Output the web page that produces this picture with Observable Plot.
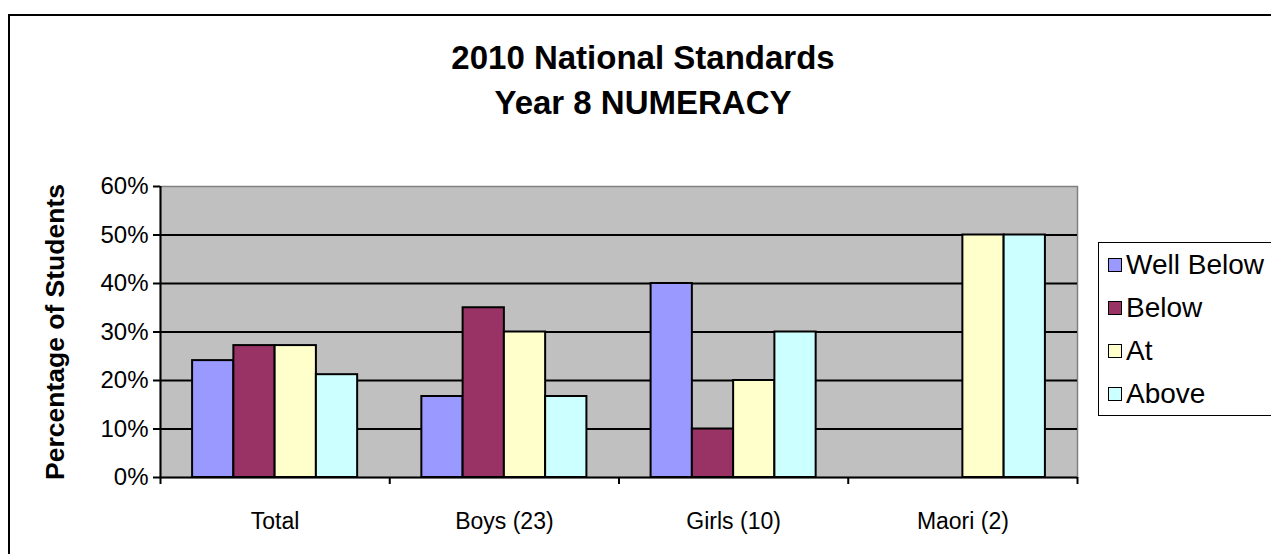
<!DOCTYPE html>
<html>
<head>
<meta charset="utf-8">
<script src="https://cdn.jsdelivr.net/npm/d3@7"></script>
<script src="https://cdn.jsdelivr.net/npm/@observablehq/plot@0.6"></script>
<style>
  body { margin: 0; background: #fff; font-family: "Liberation Sans", Arial, sans-serif; }
  #page { position: relative; width: 1271px; height: 554px; overflow: hidden; background: #fff; }
  #border { position: absolute; left: 8px; top: 14px; width: 1300px; height: 600px;
            border-top: 2px solid #000; border-left: 2px solid #000; }
  #title { position: absolute; left: 10px; width: 1266px; top: 35px; text-align: center;
           font-weight: bold; font-size: 33px; line-height: 45px; color: #000; }
  #chart { position: absolute; left: 0; top: 150px; }
  #ytitle { position: absolute; left: 55px; top: 332px; transform: translate(-50%, -50%) rotate(-90deg);
            white-space: nowrap; font-weight: bold; font-size: 26.5px; color: #000; }
  #legend { position: absolute; left: 1098px; top: 242px; width: 220px; height: 172px;
            border: 1.5px solid #000; padding-left: 9px; background: #fff; }
  .item { height: 43px; display: flex; align-items: center; font-size: 28px; color: #000; }
  .sw { width: 12px; height: 12px; border: 1.5px solid #000; margin-right: 4px; flex: none; }
</style>
</head>
<body>
<div id="page">
  <div id="border"></div>
  <div id="title">2010 National Standards<br>Year 8 NUMERACY</div>
  <div id="chart"></div>
  <div id="ytitle">Percentage of Students</div>
  <div id="legend"></div>
</div>
<script>
// ---- data ----
const categories = ["Total", "Boys (23)", "Girls (10)", "Maori (2)"];
const levels = ["Well Below", "Below", "At", "Above"];
const wellBelow = [24.1, 16.7, 40, 0];
const below = [27.2, 35, 10, 0];
const at = [27.2, 30, 20, 50];
const above = [21.2, 16.7, 30, 50];
const levelColors = ["#9999FF", "#993366", "#FFFFCC", "#CCFFFF"];
const yTicks = [0, 10, 20, 30, 40, 50, 60];

const series = [wellBelow, below, at, above];
const rows = categories.flatMap((c, ci) =>
  levels.map((l, li) => ({category: c, ci, level: l, li, value: series[li][ci]})));

// grouped-bar layout within each category slot (fractions of a category)
const groupPad = 0.14, barFrac = 0.18;

const chart = Plot.plot({
  width: 1271,
  height: 404,
  marginTop: 36,
  marginBottom: 77,
  marginLeft: 160,
  marginRight: 194,
  style: {fontFamily: "'Liberation Sans', Arial, sans-serif", fontSize: "23px", color: "#000", background: "transparent", overflow: "visible"},
  x: {domain: [0, categories.length]},
  y: {domain: [yTicks[0], yTicks[yTicks.length - 1]]},
  color: {domain: levels, range: levelColors},
  marks: [
    Plot.frame({fill: "#C0C0C0", stroke: "#808080", strokeWidth: 1.5}),
    Plot.ruleY(yTicks.slice(1, -1), {stroke: "#000", strokeWidth: 2}),
    Plot.rectY(rows, {
      x1: d => d.ci + groupPad + d.li * barFrac,
      x2: d => d.ci + groupPad + (d.li + 1) * barFrac,
      y: "value",
      fill: "level",
      stroke: "#000",
      strokeWidth: 2
    }),
    Plot.ruleY([0], {stroke: "#000", strokeWidth: 2}),
    Plot.ruleX([0], {y1: yTicks[0], y2: yTicks[yTicks.length - 1], stroke: "#000", strokeWidth: 2}),
    Plot.axisY({ticks: yTicks, tickFormat: d => d + "%", tickSize: 7, tickPadding: 5, fontSize: 24, strokeWidth: 2, label: null}),
    Plot.axisX({ticks: d3.range(0, categories.length + 1), tickFormat: () => "", tickSize: 7, strokeWidth: 2, label: null}),
    Plot.axisX({ticks: categories.map((c, i) => i + 0.5), tickFormat: v => categories[Math.floor(v)], tickSize: 0, tickPadding: 35, fontSize: 23, label: null})
  ]
});
document.getElementById("chart").appendChild(chart);

// legend
const legend = document.getElementById("legend");
levels.forEach((l, i) => {
  const item = document.createElement("div");
  item.className = "item";
  const sw = document.createElement("span");
  sw.className = "sw";
  sw.style.background = levelColors[i];
  const t = document.createElement("span");
  t.textContent = l;
  item.appendChild(sw);
  item.appendChild(t);
  legend.appendChild(item);
});
</script>
</body>
</html>
